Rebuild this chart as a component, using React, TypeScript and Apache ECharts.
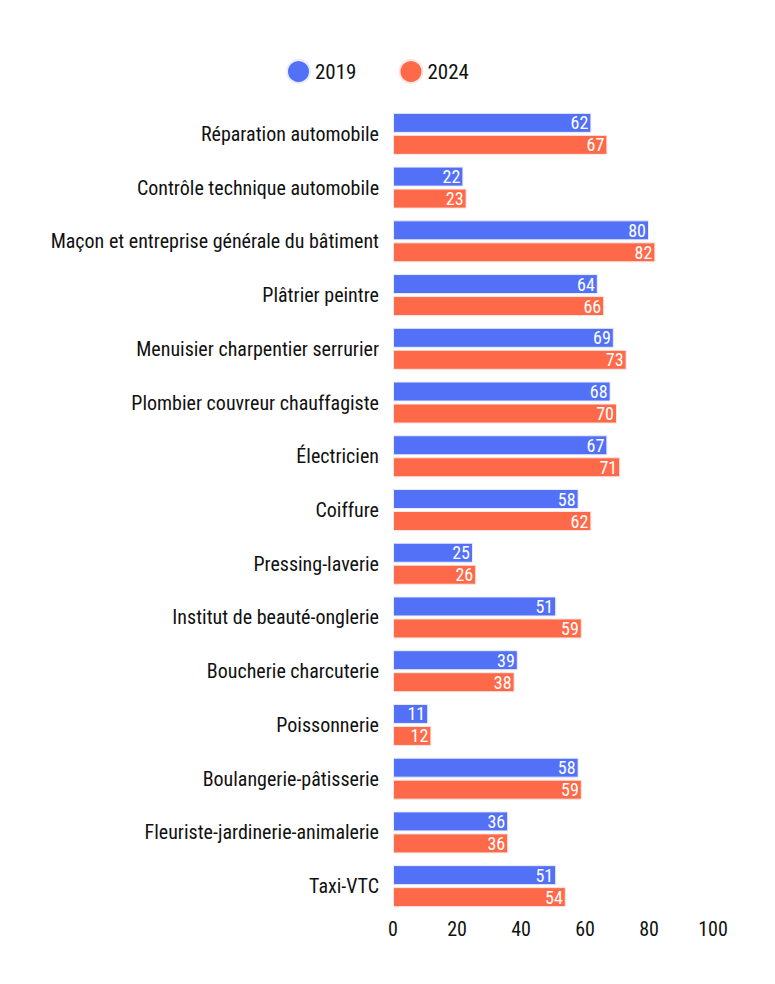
import React, { useEffect, useRef } from "react";
import * as echarts from "echarts";

const categories = [
  "Réparation automobile",
  "Contrôle technique automobile",
  "Maçon et entreprise générale du bâtiment",
  "Plâtrier peintre",
  "Menuisier charpentier serrurier",
  "Plombier couvreur chauffagiste",
  "Électricien",
  "Coiffure",
  "Pressing-laverie",
  "Institut de beauté-onglerie",
  "Boucherie charcuterie",
  "Poissonnerie",
  "Boulangerie-pâtisserie",
  "Fleuriste-jardinerie-animalerie",
  "Taxi-VTC",
];

const values2019 = [62, 22, 80, 64, 69, 68, 67, 58, 25, 51, 39, 11, 58, 36, 51];
const values2024 = [67, 23, 82, 66, 73, 70, 71, 62, 26, 59, 38, 12, 59, 36, 54];

const seriesNames = ["2019", "2024"];
const xTicks = [0, 20, 40, 60, 80, 100];

const FONT = "'Roboto Condensed', 'Open Sans', sans-serif";
const BLUE = "#5271f7";
const ORANGE = "#fe6a49";

export default function App() {
  const ref = useRef<HTMLDivElement>(null);

  useEffect(() => {
    if (!ref.current) return;
    const chart = echarts.init(ref.current, null, { renderer: "svg" });

    const labelStyle = {
      show: true,
      position: "insideRight" as const,
      distance: 3,
      color: "#ffffff",
      fontSize: 18,
      fontFamily: FONT,
    };

    chart.setOption({
      animation: false,
      legend: {
        top: 46,
        left: 273,
        icon: "circle",
        itemWidth: 23,
        itemHeight: 23,
        itemGap: 42,
        itemTextGap: 12,
        textStyle: { fontSize: 21, fontFamily: FONT, color: "#111" },
        data: seriesNames,
      },
      grid: { left: 385, right: 54, top: 99, bottom: 63, containLabel: false },
      xAxis: {
        type: "value",
        min: xTicks[0],
        max: xTicks[xTicks.length - 1],
        interval: 20,
        splitLine: { show: false },
        axisLine: { show: false },
        axisTick: { show: false },
        axisLabel: {
          fontSize: 20,
          fontFamily: FONT,
          color: "#111",
          margin: 6,
        },
      },
      yAxis: {
        type: "category",
        inverse: true,
        data: categories,
        axisLine: { show: false },
        axisTick: { show: false },
        axisLabel: {
          fontSize: 20,
          fontFamily: FONT,
          color: "#111",
          margin: 14,
        },
      },
      series: [
        {
          name: seriesNames[0],
          type: "bar",
          data: values2019,
          barWidth: 20,
          barGap: "10%",
          itemStyle: { color: BLUE, borderColor: "#e9ecfb", borderWidth: 1 },
          label: labelStyle,
        },
        {
          name: seriesNames[1],
          type: "bar",
          data: values2024,
          barWidth: 20,
          itemStyle: { color: ORANGE, borderColor: "#fbe6e1", borderWidth: 1 },
          label: labelStyle,
        },
      ],
    });

    return () => chart.dispose();
  }, []);

  return <div ref={ref} style={{ width: 759, height: 968 }} />;
}
